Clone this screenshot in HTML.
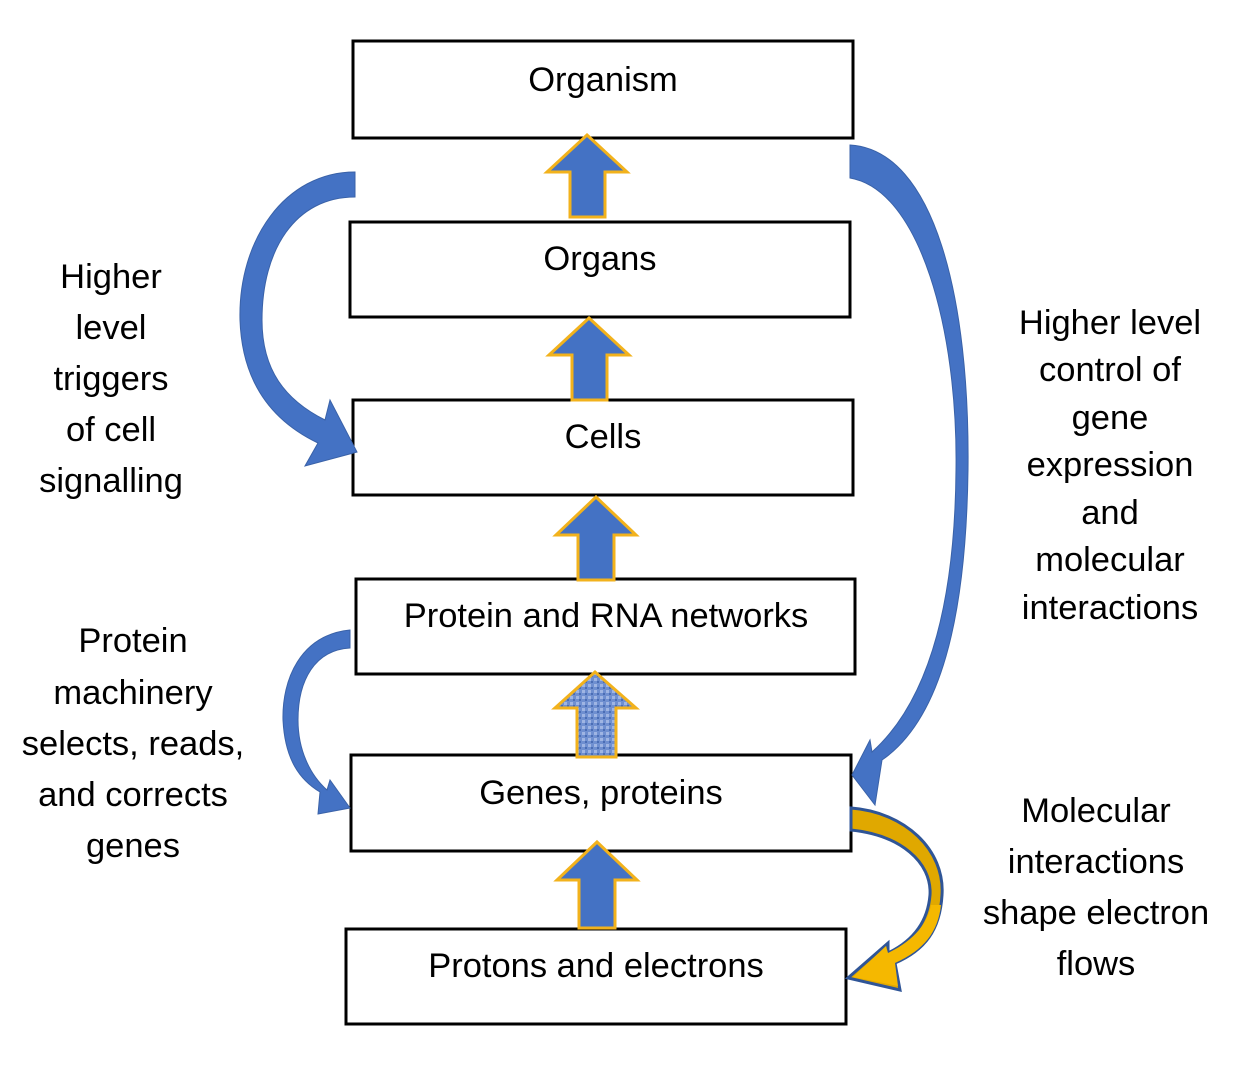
<!DOCTYPE html>
<html><head><meta charset="utf-8"><style>
html,body{margin:0;padding:0;background:#fff;}
svg{display:block;}
text{font-family:"Liberation Sans",Calibri,sans-serif;font-size:34.5px;fill:#000;}
</style></head><body>
<svg width="1239" height="1081" viewBox="0 0 1239 1081">
<defs>
<pattern id="tex" width="6" height="6" patternUnits="userSpaceOnUse">
<rect width="6" height="6" fill="#6f8fd0"/><rect x="0" y="0" width="3" height="3" fill="#9fb5e3"/><rect x="3" y="3" width="2" height="2" fill="#4a6db5"/>
</pattern>
</defs>
<g fill="#fff" stroke="#000" stroke-width="3">
<rect x="353" y="41" width="500" height="97"/>
<rect x="350" y="222" width="500" height="95"/>
<rect x="353" y="400" width="500" height="95"/>
<rect x="356" y="579" width="499" height="95"/>
<rect x="351" y="755" width="500" height="96"/>
<rect x="346" y="929" width="500" height="95"/>
</g>
<g text-anchor="middle">
<text x="603" y="91">Organism</text>
<text x="600" y="270">Organs</text>
<text x="603" y="448">Cells</text>
<text x="606" y="627">Protein and RNA networks</text>
<text x="601" y="804">Genes, proteins</text>
<text x="596" y="977">Protons and electrons</text>
</g>
<g stroke="#f2b21c" stroke-width="3" fill="#4472c4">
<path d="M587,135 L627,172 L605,172 L605,217 L570,217 L570,172 L547,172 Z"/>
<path d="M589,318 L629,355 L607,355 L607,400 L572,400 L572,355 L549,355 Z"/>
<path d="M596,497 L636,535 L614,535 L614,580 L578,580 L578,535 L556,535 Z"/>
<path d="M595,672 L636,708 L616,708 L616,757 L577,757 L577,708 L555,708 Z" fill="url(#tex)"/>
<path d="M597,842 L637,880 L615,880 L615,928 L579,928 L579,880 L557,880 Z"/>
</g>
<path fill="#4472c4" stroke="#3a62a8" stroke-width="1" d="M355,172 C285,172 238,240 240,320 C242,380 270,420 318,443 L305,466 L357,452 L330,400 L325,420 C285,400 262,370 262,320 C262,250 295,197 355,197 Z"/>
<path fill="#4472c4" stroke="#3a62a8" stroke-width="1" d="M850,145 C935,150 970,300 968,470 C966,620 940,720 882,760 L875,805 L852,775 L870,740 L872,752 C930,700 955,600 956,470 C958,330 920,190 850,178 Z"/>
<path fill="#4472c4" stroke="#3a62a8" stroke-width="1" d="M350,630 C300,635 282,680 283,720 C285,760 300,780 320,792 L318,814 L350,808 L330,780 L327,790 C310,775 298,750 298,720 C298,680 315,650 350,648 Z"/>
<path fill="#e0a800" stroke="#2f5597" stroke-width="3" d="M851,808 C905,812 945,850 942,895 C940,930 925,950 895,963 L900,990 L848,978 L888,943 L888,953 C915,940 928,920 930,895 C932,862 900,835 851,830 Z"/>
<path fill="#f5b800" d="M941,905 C938,932 924,950 895,963 L898,986 L853,977 L886,946 L888,953 C915,940 928,922 931,905 Z"/>
<g text-anchor="middle">
<text x="111" y="288">Higher</text>
<text x="111" y="339">level</text>
<text x="111" y="390">triggers</text>
<text x="111" y="441">of cell</text>
<text x="111" y="492">signalling</text>
<text x="1110" y="334">Higher level</text>
<text x="1110" y="381">control of</text>
<text x="1110" y="429">gene</text>
<text x="1110" y="476">expression</text>
<text x="1110" y="524">and</text>
<text x="1110" y="571">molecular</text>
<text x="1110" y="619">interactions</text>
<text x="133" y="652">Protein</text>
<text x="133" y="704">machinery</text>
<text x="133" y="755">selects, reads,</text>
<text x="133" y="806">and corrects</text>
<text x="133" y="857">genes</text>
<text x="1096" y="822">Molecular</text>
<text x="1096" y="873">interactions</text>
<text x="1096" y="924">shape electron</text>
<text x="1096" y="975">flows</text>
</g>
</svg>
</body></html>
